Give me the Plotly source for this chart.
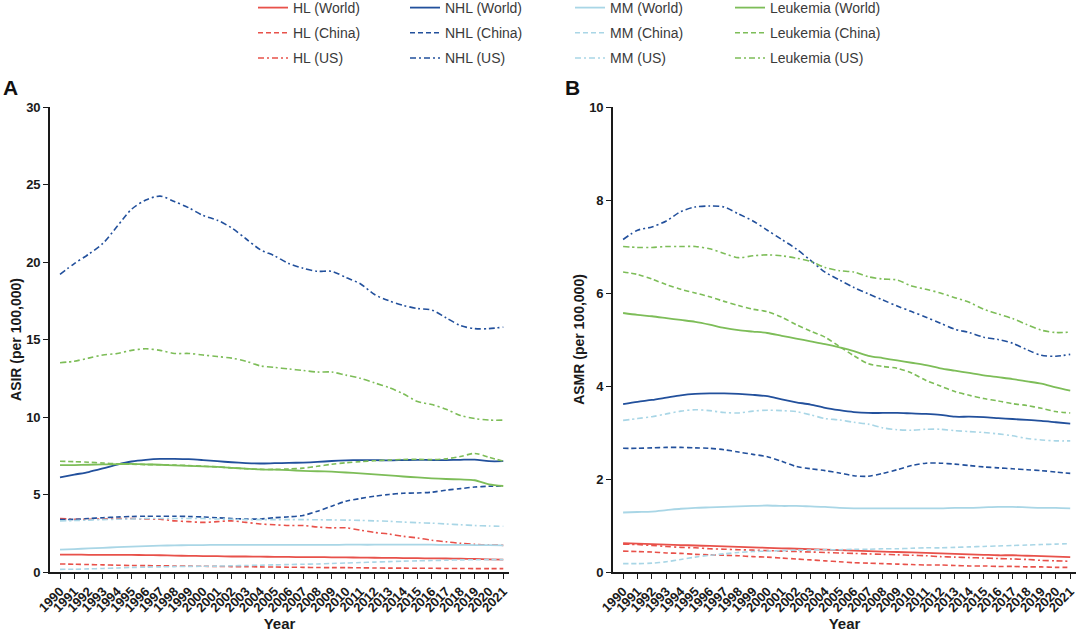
import plotly.graph_objects as go

W, H = 1080, 632

years = list(range(1990, 2022))
year_labels = [str(y) for y in years]

# ---------------- Panel A: ASIR (per 100,000) ----------------
asir_hl_world = [1.12,1.12,1.11,1.11,1.10,1.10,1.09,1.08,1.06,1.04,1.03,1.02,1.00,1.00,0.99,0.98,0.97,0.96,0.96,0.95,0.94,0.93,0.92,0.91,0.90,0.89,0.88,0.87,0.86,0.84,0.82,0.80]
asir_hl_china = [0.52,0.50,0.48,0.46,0.44,0.42,0.41,0.40,0.39,0.38,0.37,0.36,0.35,0.34,0.33,0.32,0.31,0.30,0.29,0.28,0.28,0.27,0.26,0.25,0.25,0.24,0.24,0.23,0.23,0.22,0.22,0.22]
asir_hl_us = [3.45,3.40,3.40,3.42,3.45,3.45,3.42,3.40,3.30,3.25,3.20,3.25,3.30,3.20,3.10,3.05,3.00,3.00,2.90,2.85,2.85,2.70,2.55,2.45,2.30,2.20,2.05,1.95,1.85,1.78,1.75,1.72]
asir_nhl_world = [6.10,6.28,6.45,6.68,6.93,7.13,7.24,7.30,7.30,7.28,7.22,7.15,7.08,7.03,7.00,7.02,7.04,7.06,7.10,7.16,7.20,7.22,7.22,7.20,7.22,7.24,7.22,7.22,7.24,7.25,7.15,7.15]
asir_nhl_china = [3.38,3.40,3.45,3.50,3.55,3.58,3.60,3.60,3.60,3.58,3.55,3.50,3.45,3.42,3.42,3.50,3.56,3.65,3.92,4.25,4.57,4.74,4.89,5.00,5.08,5.10,5.15,5.28,5.38,5.48,5.53,5.55]
asir_nhl_us = [19.2,19.9,20.5,21.2,22.3,23.4,24.0,24.25,23.9,23.5,23.0,22.7,22.2,21.5,20.8,20.4,19.9,19.6,19.4,19.4,19.0,18.6,17.9,17.5,17.2,17.0,16.9,16.4,15.9,15.7,15.7,15.8]
asir_mm_world = [1.45,1.48,1.52,1.56,1.60,1.64,1.67,1.70,1.72,1.73,1.74,1.75,1.75,1.75,1.75,1.75,1.75,1.75,1.75,1.75,1.76,1.76,1.76,1.77,1.77,1.76,1.76,1.75,1.75,1.74,1.73,1.72]
asir_mm_china = [0.17,0.18,0.20,0.23,0.26,0.29,0.31,0.33,0.35,0.36,0.37,0.38,0.40,0.42,0.44,0.46,0.48,0.50,0.52,0.55,0.58,0.61,0.64,0.67,0.70,0.72,0.74,0.76,0.78,0.79,0.80,0.80]
asir_mm_us = [3.30,3.32,3.35,3.38,3.40,3.42,3.45,3.45,3.45,3.45,3.45,3.42,3.40,3.38,3.38,3.38,3.38,3.38,3.37,3.36,3.35,3.33,3.30,3.27,3.22,3.18,3.15,3.10,3.05,3.00,2.97,2.95]
asir_leuk_world = [6.90,6.90,6.92,6.94,6.96,6.98,6.95,6.92,6.88,6.85,6.82,6.78,6.72,6.67,6.62,6.60,6.57,6.53,6.50,6.47,6.42,6.36,6.30,6.24,6.16,6.10,6.04,6.00,5.97,5.92,5.65,5.55]
asir_leuk_china = [7.15,7.12,7.08,7.03,6.98,6.95,6.93,6.92,6.90,6.87,6.83,6.78,6.72,6.66,6.62,6.62,6.65,6.70,6.82,6.95,7.05,7.12,7.18,7.22,7.26,7.27,7.25,7.30,7.45,7.65,7.40,7.15]
asir_leuk_us = [13.5,13.6,13.8,14.0,14.1,14.3,14.4,14.3,14.1,14.1,14.0,13.9,13.8,13.6,13.3,13.2,13.1,13.0,12.9,12.9,12.7,12.5,12.2,11.9,11.5,11.0,10.8,10.5,10.1,9.9,9.8,9.8]

# ---------------- Panel B: ASMR (per 100,000) ----------------
asmr_hl_world = [0.62,0.61,0.60,0.59,0.58,0.57,0.56,0.55,0.54,0.53,0.52,0.51,0.50,0.49,0.48,0.47,0.46,0.45,0.44,0.43,0.42,0.41,0.40,0.39,0.38,0.37,0.36,0.36,0.35,0.34,0.33,0.32]
asmr_hl_china = [0.45,0.44,0.43,0.41,0.40,0.38,0.37,0.36,0.35,0.33,0.32,0.30,0.28,0.26,0.24,0.22,0.20,0.19,0.18,0.17,0.16,0.15,0.15,0.14,0.13,0.13,0.12,0.12,0.11,0.11,0.10,0.10]
asmr_hl_us = [0.60,0.59,0.57,0.55,0.53,0.52,0.50,0.49,0.48,0.47,0.46,0.45,0.44,0.43,0.42,0.41,0.40,0.39,0.38,0.37,0.36,0.35,0.33,0.32,0.31,0.30,0.29,0.28,0.27,0.25,0.24,0.23]
asmr_nhl_world = [3.61,3.66,3.70,3.75,3.80,3.83,3.84,3.84,3.83,3.81,3.78,3.71,3.65,3.60,3.53,3.48,3.44,3.42,3.42,3.42,3.41,3.40,3.38,3.34,3.34,3.33,3.31,3.29,3.27,3.25,3.22,3.19]
asmr_nhl_china = [2.66,2.66,2.67,2.68,2.68,2.67,2.66,2.63,2.58,2.53,2.48,2.38,2.27,2.22,2.18,2.13,2.07,2.06,2.12,2.20,2.29,2.34,2.34,2.32,2.29,2.26,2.24,2.22,2.20,2.18,2.15,2.12]
asmr_nhl_us = [7.15,7.35,7.42,7.55,7.75,7.85,7.87,7.85,7.70,7.55,7.35,7.15,6.95,6.70,6.45,6.28,6.12,5.98,5.85,5.72,5.60,5.48,5.35,5.22,5.15,5.05,5.00,4.92,4.78,4.66,4.64,4.68]
asmr_mm_world = [1.28,1.29,1.30,1.33,1.36,1.38,1.39,1.40,1.41,1.42,1.43,1.42,1.42,1.41,1.40,1.38,1.37,1.37,1.37,1.37,1.37,1.37,1.37,1.38,1.38,1.39,1.40,1.40,1.39,1.38,1.38,1.37]
asmr_mm_china = [0.18,0.18,0.19,0.22,0.27,0.32,0.36,0.39,0.42,0.44,0.45,0.46,0.47,0.47,0.48,0.48,0.49,0.49,0.50,0.50,0.51,0.52,0.52,0.53,0.54,0.55,0.56,0.57,0.58,0.59,0.60,0.61]
asmr_mm_us = [3.26,3.30,3.34,3.40,3.46,3.49,3.47,3.43,3.42,3.46,3.48,3.47,3.45,3.38,3.30,3.27,3.22,3.18,3.10,3.06,3.05,3.07,3.07,3.04,3.02,3.00,2.97,2.93,2.87,2.84,2.82,2.82]
asmr_leuk_world = [5.57,5.53,5.50,5.46,5.42,5.38,5.32,5.25,5.20,5.17,5.14,5.08,5.02,4.96,4.90,4.83,4.75,4.65,4.60,4.55,4.50,4.45,4.38,4.33,4.28,4.23,4.19,4.15,4.10,4.05,3.97,3.90]
asmr_leuk_china = [6.45,6.40,6.30,6.18,6.08,6.00,5.92,5.82,5.73,5.65,5.60,5.48,5.32,5.18,5.05,4.85,4.65,4.48,4.42,4.38,4.28,4.12,4.00,3.88,3.80,3.73,3.68,3.62,3.58,3.52,3.45,3.42]
asmr_leuk_us = [7.00,6.98,6.98,7.00,7.00,7.00,6.95,6.85,6.76,6.80,6.82,6.80,6.75,6.68,6.55,6.48,6.45,6.35,6.30,6.28,6.15,6.08,6.00,5.90,5.80,5.65,5.55,5.45,5.32,5.20,5.15,5.16]

diseases = ["HL", "NHL", "MM", "Leukemia"]
regions = ["World", "China", "US"]

asir = {
    "HL": [asir_hl_world, asir_hl_china, asir_hl_us],
    "NHL": [asir_nhl_world, asir_nhl_china, asir_nhl_us],
    "MM": [asir_mm_world, asir_mm_china, asir_mm_us],
    "Leukemia": [asir_leuk_world, asir_leuk_china, asir_leuk_us],
}
asmr = {
    "HL": [asmr_hl_world, asmr_hl_china, asmr_hl_us],
    "NHL": [asmr_nhl_world, asmr_nhl_china, asmr_nhl_us],
    "MM": [asmr_mm_world, asmr_mm_china, asmr_mm_us],
    "Leukemia": [asmr_leuk_world, asmr_leuk_china, asmr_leuk_us],
}

# styles
colors = {"HL": "#E8514A", "NHL": "#22509C", "MM": "#A9D6E6", "Leukemia": "#7DBD58"}
dashes = {"World": "solid", "China": "5px,3px", "US": "6px,3px,2px,3px"}
widths = {"World": 1.8, "China": 1.6, "US": 1.6}
legend_ids = {"HL": "legend", "NHL": "legend2", "MM": "legend3", "Leukemia": "legend4"}

FONT = "Liberation Sans, Arial, sans-serif"

fig = go.Figure()
for d in diseases:
    for i, r in enumerate(regions):
        name = f"{d} ({r})"
        line = dict(color=colors[d], dash=dashes[r], width=widths[r], shape="spline", smoothing=0.8)
        fig.add_trace(go.Scatter(x=years, y=asir[d][i], mode="lines", name=name, line=line,
                                 legendgroup=name, legend=legend_ids[d], showlegend=True,
                                 xaxis="x", yaxis="y"))
        fig.add_trace(go.Scatter(x=years, y=asmr[d][i], mode="lines", name=name, line=line,
                                 legendgroup=name, legend=legend_ids[d], showlegend=False,
                                 xaxis="x2", yaxis="y2"))

def px_x(p):
    return p / W

def px_y(p):
    return 1 - p / H

axis_common = dict(
    showgrid=False, zeroline=False, showline=True, linecolor="#1a1a1a", linewidth=1.6,
    ticks="outside", ticklen=5, tickwidth=1.4, tickcolor="#1a1a1a",
    tickfont=dict(family=FONT, size=13, color="#1a1a1a", weight="bold"),
    automargin=False,
)

xa = dict(axis_common, tickmode="array", tickvals=years, ticktext=year_labels, tickangle=-45,
          range=[1989.3, 2021.4],
          title=dict(text="Year", font=dict(family=FONT, size=15, color="#1a1a1a", weight="bold"), standoff=4))

ytitle_font = dict(family=FONT, size=14, color="#1a1a1a", weight="bold")

fig.update_layout(
    width=W, height=H,
    margin=dict(l=0, r=0, t=0, b=0, autoexpand=False),
    paper_bgcolor="white", plot_bgcolor="white",
    font=dict(family=FONT, color="#333"),
    xaxis=dict(xa, domain=[px_x(50), px_x(509)], anchor="y"),
    xaxis2=dict(xa, domain=[px_x(613), px_x(1076)], anchor="y2"),
    yaxis=dict(axis_common, domain=[px_y(572), px_y(107)], range=[0, 30], tickvals=[0, 5, 10, 15, 20, 25, 30],
               anchor="x", title=dict(text="ASIR (per 100,000)", font=ytitle_font, standoff=1)),
    yaxis2=dict(axis_common, domain=[px_y(572), px_y(107)], range=[0, 10], tickvals=[0, 2, 4, 6, 8, 10],
                anchor="x2", title=dict(text="ASMR (per 100,000)", font=ytitle_font, standoff=1)),
    showlegend=True,
)

legend_x = {"legend": 253, "legend2": 405, "legend3": 570, "legend4": 730}
for lid, lx in legend_x.items():
    fig.update_layout({lid: dict(
        x=px_x(lx), xanchor="left", y=1 + 8 / H, yanchor="top", orientation="v",
        bgcolor="rgba(0,0,0,0)", borderwidth=0, tracegroupgap=4, traceorder="grouped",
        font=dict(family=FONT, size=14, color="#3a3a3a"),
    )})

fig.add_annotation(text="A", x=px_x(1), y=px_y(88), xref="paper", yref="paper", showarrow=False,
                   xanchor="left", yanchor="middle",
                   font=dict(family=FONT, size=21, color="#111", weight="bold"))
fig.add_annotation(text="B", x=px_x(563), y=px_y(88), xref="paper", yref="paper", showarrow=False,
                   xanchor="left", yanchor="middle",
                   font=dict(family=FONT, size=21, color="#111", weight="bold"))

fig.write_html("out.html", config={"displayModeBar": False},
               post_script="document.body.style.margin='0px';")
